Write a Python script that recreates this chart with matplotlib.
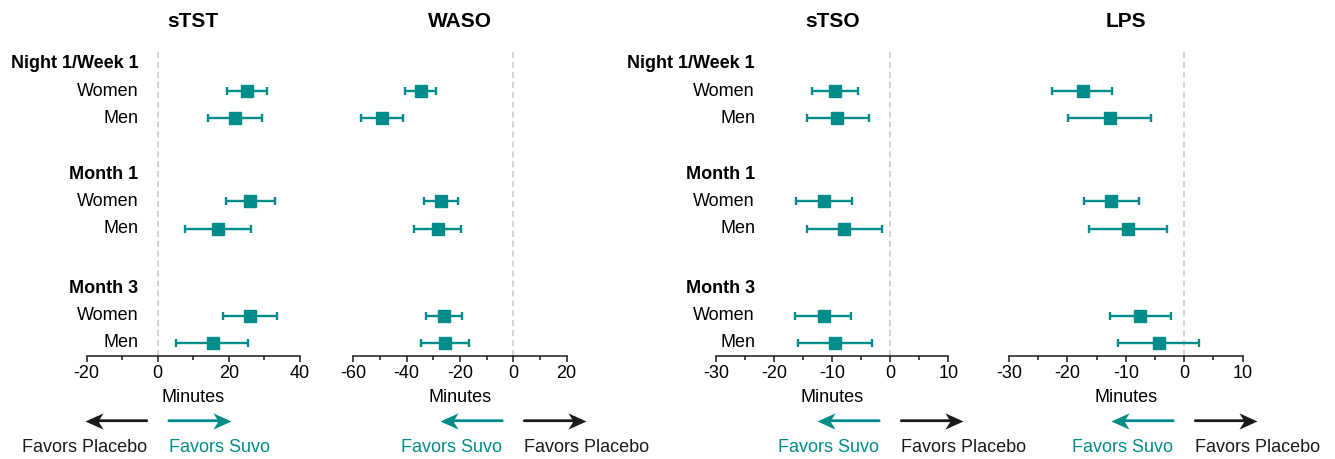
import matplotlib
matplotlib.use("Agg")
import matplotlib.pyplot as plt
from matplotlib.path import Path
from matplotlib.ticker import MultipleLocator
from matplotlib.transforms import blended_transform_factory, offset_copy

# ---- data: point estimates and 95% CI bounds (minutes) ----
groups = ["Night 1/Week 1", "Month 1", "Month 3"]
sexes = ["Women", "Men"]

sTST_est = [25.0, 21.7, 26.0, 16.9, 26.0, 15.5]
sTST_lo = [19.4, 14.0, 19.1, 7.7, 18.3, 5.1]
sTST_hi = [30.7, 29.2, 33.0, 26.1, 33.5, 25.5]

WASO_est = [-34.7, -49.1, -27.1, -28.4, -25.9, -25.6]
WASO_lo = [-40.6, -57.1, -33.5, -37.2, -32.7, -34.7]
WASO_hi = [-29.0, -41.5, -20.7, -19.7, -19.2, -16.7]

sTSO_est = [-9.5, -9.1, -11.4, -7.9, -11.4, -9.5]
sTSO_lo = [-13.5, -14.4, -16.2, -14.4, -16.4, -15.8]
sTSO_hi = [-5.6, -3.7, -6.5, -1.4, -6.8, -3.1]

LPS_est = [-17.4, -12.7, -12.5, -9.6, -7.5, -4.4]
LPS_lo = [-22.7, -19.9, -17.2, -16.3, -12.7, -11.4]
LPS_hi = [-12.3, -5.7, -7.7, -3.0, -2.3, 2.5]

plt.rcParams['font.family'] = ['Liberation Sans', 'DejaVu Sans']
plt.rcParams['axes.unicode_minus'] = False

TEAL = '#008C8A'
DARK = '#1a1a1a'
FIG_W, FIG_H = 1335, 459

fig = plt.figure(figsize=(FIG_W / 100, FIG_H / 100), dpi=100)

# swept ("stealth") arrow-head markers, tip at the marker origin
def stealth(direction):
    d = direction
    verts = [(0, 0), (-d * 1.0, 0.45), (-d * 0.72, 0), (-d * 1.0, -0.45), (0, 0)]
    codes = [Path.MOVETO, Path.LINETO, Path.LINETO, Path.LINETO, Path.CLOSEPOLY]
    return Path(verts, codes)

# row layout (in row units, top to bottom)
header_y = [0.0, 4.05, 8.25]
row_y = []
for h in header_y:
    row_y += [h + 1, h + 2]

# name, est, lo, hi, xlim, major step, +1 if Suvo favoured to the right,
# axes left/width in pixels, right edge of row labels (px) or None
panels = [
    ("sTST", sTST_est, sTST_lo, sTST_hi, (-20, 40), 20, +1, 86.7, 213.3, 138.3),
    ("WASO", WASO_est, WASO_lo, WASO_hi, (-60, 20), 20, -1, 353.3, 213.3, None),
    ("sTSO", sTSO_est, sTSO_lo, sTSO_hi, (-30, 10), 10, -1, 716.0, 232.3, 755.0),
    ("LPS", LPS_est, LPS_lo, LPS_hi, (-30, 10), 10, -1, 1009.0, 233.7, None),
]

ax_bottom_px, ax_top_px = 355.7, 50.0

def fy(px):
    return 1 - px / FIG_H

for name, est, lo, hi, xlim, step, fav, left_px, width_px, lab_px in panels:
    ax = fig.add_axes([left_px / FIG_W, fy(ax_bottom_px),
                       width_px / FIG_W, (ax_bottom_px - ax_top_px) / FIG_H])
    ax.set_xlim(*xlim)
    ax.set_ylim(10.72, -0.51)
    ax.patch.set_alpha(0)

    for side in ("top", "right", "left"):
        ax.spines[side].set_visible(False)
    ax.spines["bottom"].set_linewidth(1.1)
    ax.spines["bottom"].set_color(DARK)
    ax.set_yticks([])
    ax.xaxis.set_major_locator(MultipleLocator(step))
    ax.xaxis.set_minor_locator(MultipleLocator(step / 2))
    ax.tick_params(axis="x", which="major", length=4, width=1.1, color=DARK,
                   labelsize=13, pad=3, labelcolor="black")
    ax.tick_params(axis="x", which="minor", length=3, width=1.1, color=DARK)

    ax.axvline(0, color="#c8c8c8", lw=1.1, ls=(0, (4, 2.5)), zorder=0)

    xerr = [[e - l for e, l in zip(est, lo)], [h - e for e, h in zip(est, hi)]]
    ax.errorbar(est, row_y, xerr=xerr, fmt="s", color=TEAL, ms=8.6,
                elinewidth=1.7, capsize=3.2, capthick=1.7, zorder=3)

    # title
    ax.text(0.5, fy(21.7), name, transform=blended_transform_factory(ax.transAxes, fig.transFigure),
            ha="center", va="center", fontsize=15, fontweight="bold")
    # axis caption
    ax.text(0.5, fy(398), "Minutes", transform=blended_transform_factory(ax.transAxes, fig.transFigure),
            ha="center", va="center", fontsize=13)

    # row labels
    if lab_px is not None:
        tr = blended_transform_factory(fig.transFigure, ax.transData)
        for g, h in zip(groups, header_y):
            ax.text(lab_px / FIG_W, h, g, transform=tr, ha="right", va="center",
                    fontsize=13, fontweight="bold", clip_on=False)
            for k, s in enumerate(sexes):
                ax.text(lab_px / FIG_W, h + 1 + k, s, transform=tr, ha="right",
                        va="center", fontsize=13, clip_on=False)

    # direction arrows around the zero line
    base = blended_transform_factory(ax.transData, fig.transFigure)
    left_col = TEAL if fav < 0 else DARK
    right_col = DARK if fav < 0 else TEAL
    left_txt = "Favors Suvo" if fav < 0 else "Favors Placebo"
    right_txt = "Favors Placebo" if fav < 0 else "Favors Suvo"
    gap, length, notch = 11, 62, 11
    ya = fy(420.7)
    for sign, col, txt in ((-1, left_col, left_txt), (+1, right_col, right_txt)):
        tail = offset_copy(base, fig=fig, x=sign * gap, y=0, units="dots")
        shaft_end = offset_copy(base, fig=fig, x=sign * (gap + length - notch), y=0, units="dots")
        head = offset_copy(base, fig=fig, x=sign * (gap + length), y=0, units="dots")
        ax.annotate("", xy=(0, ya), xycoords=shaft_end,
                    xytext=(0, ya), textcoords=tail,
                    arrowprops=dict(arrowstyle="-", lw=2.0, color=col,
                                    shrinkA=0, shrinkB=0),
                    annotation_clip=False)
        ax.plot([0], [ya], transform=head, marker=stealth(sign), ms=26,
                color=col, mew=0, linestyle="none", clip_on=False)
        ax.text(0, fy(448), txt, transform=tail, ha="right" if sign < 0 else "left",
                va="center", fontsize=13, color=col, clip_on=False)

fig.savefig("out.png", dpi=100)
